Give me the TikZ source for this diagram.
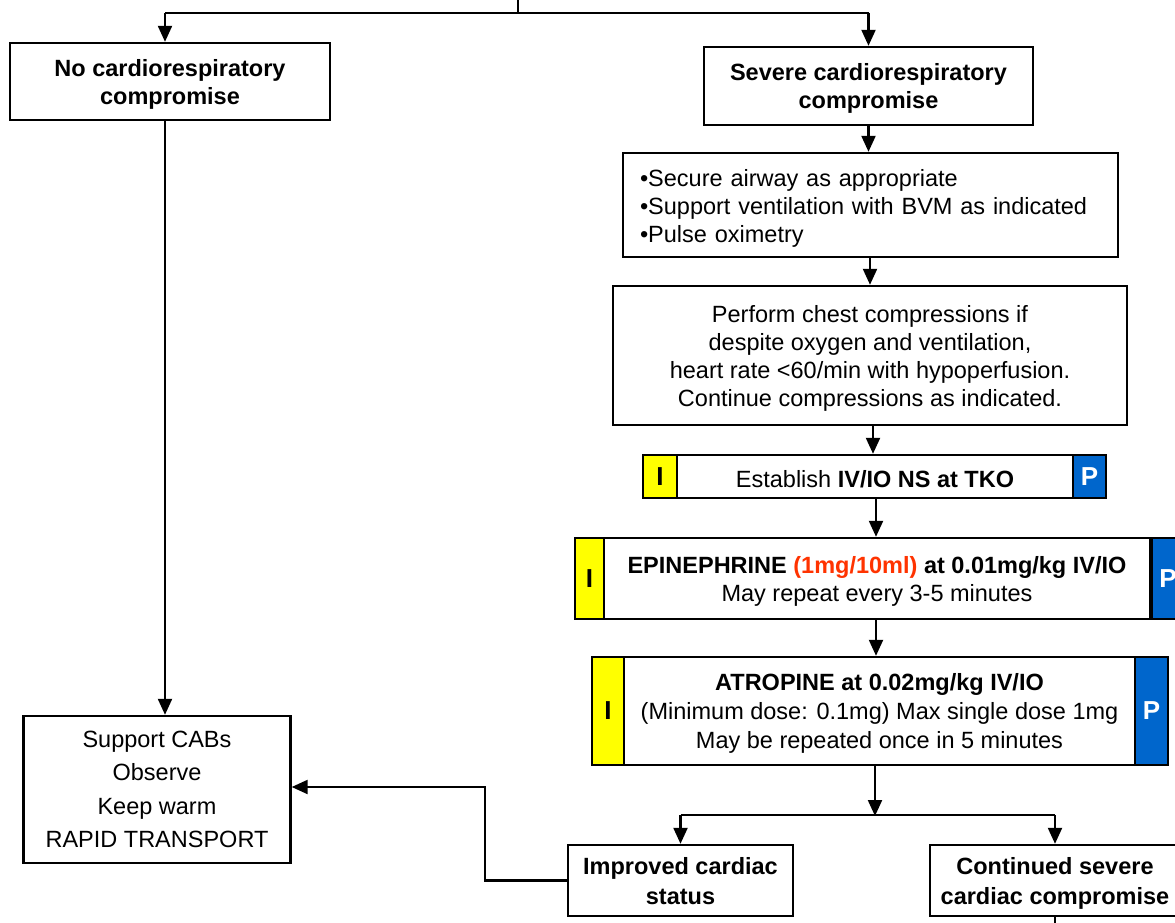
\documentclass[tikz,border=0pt]{standalone}
\usepackage{fontspec}
\setmainfont{Liberation Sans}
\usetikzlibrary{arrows.meta}
\definecolor{iyel}{HTML}{FFFF00}
\definecolor{pblue}{HTML}{0066CC}
\definecolor{dose}{HTML}{FF3300}
\begin{document}
\begin{tikzpicture}[x=1pt,y=-1pt,
  font=\fontsize{23.5}{28}\selectfont,
  box/.style={draw, line width=2.4pt, align=center, inner sep=0pt, fill=white},
  low/.style={text depth=-3pt},
  tbox/.style={box, low, font=\fontsize{23.5}{28}\selectfont\bfseries},
  itag/.style={draw, line width=2.4pt, fill=iyel, inner sep=0pt, font=\fontsize{26}{28}\selectfont\bfseries},
  ptag/.style={draw, line width=2.4pt, fill=pblue, text=white, inner sep=0pt, font=\fontsize{26}{28}\selectfont\bfseries},
  arr/.style={line width=2.2pt, -{Triangle[length=16pt,width=14pt]}},
  ln/.style={line width=2.2pt}]
\clip (0,0) rectangle (1175,923);
\fill[white] (0,0) rectangle (1175,923);

% top row
\node[tbox, minimum width=320, minimum height=77] (nocr) at (170,81.5) {No cardiorespiratory\\compromise};
\node[tbox, minimum width=329, minimum height=78] (sev) at (868.5,86) {Severe cardiorespiratory\\compromise};

% right column
\node[box, minimum width=495, minimum height=104, text width=461, align=left, inner xsep=17, text height=24pt] (bul) at (870.5,205)
  {•Secure airway as appropriate\\•Support ventilation with BVM as indicated\\•Pulse oximetry};
\node[box, low, minimum width=514, minimum height=139] (perf) at (870,355.5)
  {Perform chest compressions if\\despite oxygen and ventilation,\\heart rate <60/min with hypoperfusion.\\Continue compressions as indicated.};

\node[box, minimum width=396, minimum height=43, text height=22pt] (est) at (875,476.5) {Establish \textbf{IV/IO NS at TKO}};
\node[itag, minimum width=34, minimum height=43] (estI) at (660,476.5) {I};
\node[ptag, minimum width=33, minimum height=43] (estP) at (1089.5,476.5) {P};

\node[box, low, minimum width=546, minimum height=81] (epi) at (877,578.5)
  {\textbf{EPINEPHRINE \textcolor{dose}{(1mg/10ml)} at 0.01mg/kg IV/IO}\\May repeat every 3-5 minutes};
\node[itag, minimum width=29, minimum height=81] (epiI) at (589.5,578.5) {I};
\node[ptag, minimum width=32, minimum height=81] (epiP) at (1168,578.5) {P};

\node[box, low, minimum width=511, minimum height=108, font=\fontsize{23.5}{29}\selectfont] (atr) at (879.5,711)
  {\textbf{ATROPINE at 0.02mg/kg IV/IO}\\(Minimum dose: 0.1mg) Max single dose 1mg\\May be repeated once in 5 minutes};
\node[itag, minimum width=32, minimum height=108] (atrI) at (608,711) {I};
\node[ptag, minimum width=33, minimum height=108] (atrP) at (1151.5,711) {P};

% bottom boxes
\node[tbox, minimum width=225, minimum height=71, font=\fontsize{23.5}{30}\selectfont\bfseries] (imp) at (680.5,880.5) {Improved cardiac\\status};
\node[tbox, minimum width=250, minimum height=71, font=\fontsize{23.5}{30}\selectfont\bfseries] (cont) at (1055,880.5) {Continued severe\\cardiac compromise};

% left support box
\node[box, minimum width=267, minimum height=147, font=\fontsize{23.5}{33.5}\selectfont] (sup) at (157,789.5)
  {Support CABs\\Observe\\Keep warm\\RAPID TRANSPORT};

% connectors
\coordinate (top) at (518,0);
\coordinate (tj) at (518,13);
\coordinate (la) at (165,13);
\coordinate (ra) at (868.5,13);
\draw[ln] (top) -- (tj);
\draw[ln] (la) -- (ra);
\draw[arr] (la) -- (la |- nocr.north);
\draw[arr] (ra) -- (sev.north);
\draw[arr] (nocr.south -| la) -- (la |- sup.north);

\draw[arr] (sev.south) -- (sev.south |- bul.north);
\draw[arr] (bul.south -| perf.north) -- (perf.north);
\coordinate (a3) at (873,0);
\draw[arr] (perf.south -| a3) -- (a3 |- est.north);
\coordinate (a4) at (876,0);
\draw[arr] (est.south -| a4) -- (a4 |- epi.north);
\draw[arr] (epi.south -| a4) -- (a4 |- atr.north);

\coordinate (bj) at (875,815);
\coordinate (bl) at (680.5,815);
\coordinate (br) at (1055,815);
\draw[arr] (atr.south -| bj) -- ([yshift=-1]bj);
\draw[ln] (bl) -- (br);
\draw[arr] (bl) -- (imp.north);
\draw[arr] (br) -- (cont.north);
\draw[ln] (cont.south) -- ++(0,12);

\coordinate (ic) at (485,787);
\draw[arr] (imp.west) -| (ic) -- (ic -| sup.east);
\end{tikzpicture}
\end{document}
